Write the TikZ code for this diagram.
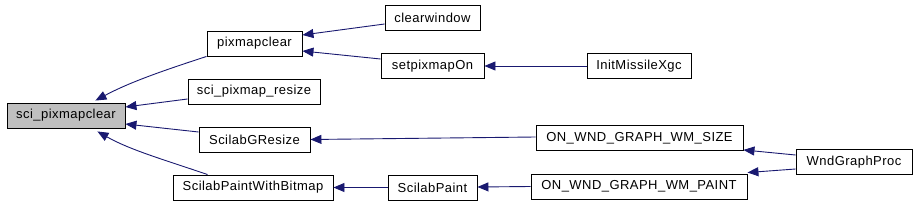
\documentclass[tikz,border=0pt]{standalone}
\usepackage{fontspec}
\setmainfont{Liberation Sans}[LetterSpace=3.5]
\usetikzlibrary{arrows.meta,calc}
\definecolor{edgecol}{HTML}{191970}
\begin{document}
\begin{tikzpicture}[x=1pt,y=-1pt,
  box/.style={draw=black,line width=0.9pt,rectangle,inner sep=0pt,minimum height=25pt,font=\fontsize{13}{15}\selectfont},
  edge/.style={draw=edgecol,line width=0.9pt,-{Triangle[length=11pt,width=9pt]}}]
\useasboundingbox (0,0) rectangle (917,203);
\node[box,fill=black!25,minimum width=118pt] (sci) at (66,115.5) {sci\_pixmapclear};
\node[box,minimum width=95pt] (pix) at (254.5,43.5) {pixmapclear};
\node[box,minimum width=95pt] (clr) at (432.5,18) {clearwindow};
\node[box,minimum width=103pt] (setp) at (432.5,66) {setpixmapOn};
\node[box,minimum width=132pt] (res) at (254,91.5) {sci\_pixmap\_resize};
\node[box,minimum width=111pt] (gres) at (254.5,139.5) {ScilabGResize};
\node[box,minimum width=160pt] (pwb) at (253,187.5) {ScilabPaintWithBitmap};
\node[box,minimum width=89pt] (sp) at (432.5,187.5) {ScilabPaint};
\node[box,minimum width=104pt] (init) at (639,66) {InitMissileXgc};
\node[box,minimum width=207pt] (wsize) at (639.5,138) {ON\_WND\_GRAPH\_WM\_SIZE};
\node[box,minimum width=216pt] (wpaint) at (639,186.5) {ON\_WND\_GRAPH\_WM\_PAINT};
\node[box,minimum width=116pt] (wgp) at (854,162) {WndGraphProc};

\draw[edge] ($(clr.west)+(0,6)$) -- ($(pix.east)+(0,-8.5)$);
\draw[edge] ($(setp.west)+(0,-7)$) -- ($(pix.east)+(0,7.5)$);
\draw[edge] (init.west) -- (setp.east);
\draw[edge] ($(res.west)+(0,7.5)$) -- ($(sci.east)+(0,-8.5)$);
\draw[edge] ($(gres.west)+(0,-7.5)$) -- ($(sci.east)+(0,8.5)$);
\draw[edge] (pix.south west) .. controls (165,70) and (130,82) .. ($(sci.north east)+(-30,-2)$);
\draw[edge] ($(pwb.north west)+(35,0)$) .. controls (165,160) and (130,150) .. ($(sci.south east)+(-28,3)$);
\draw[edge] ($(wsize.west)+(0,-1)$) -- (gres.east);
\draw[edge] (sp.west) -- (pwb.east);
\draw[edge] ($(wpaint.west)+(0,0)$) -- ($(sp.east)+(0,-0.5)$);
\draw[edge] ($(wgp.west)+(0,-7)$) -- ($(wsize.south east)+(0,-1)$);
\draw[edge] ($(wgp.west)+(0,7)$) -- ($(wpaint.north east)+(0,-1)$);
\end{tikzpicture}
\end{document}
